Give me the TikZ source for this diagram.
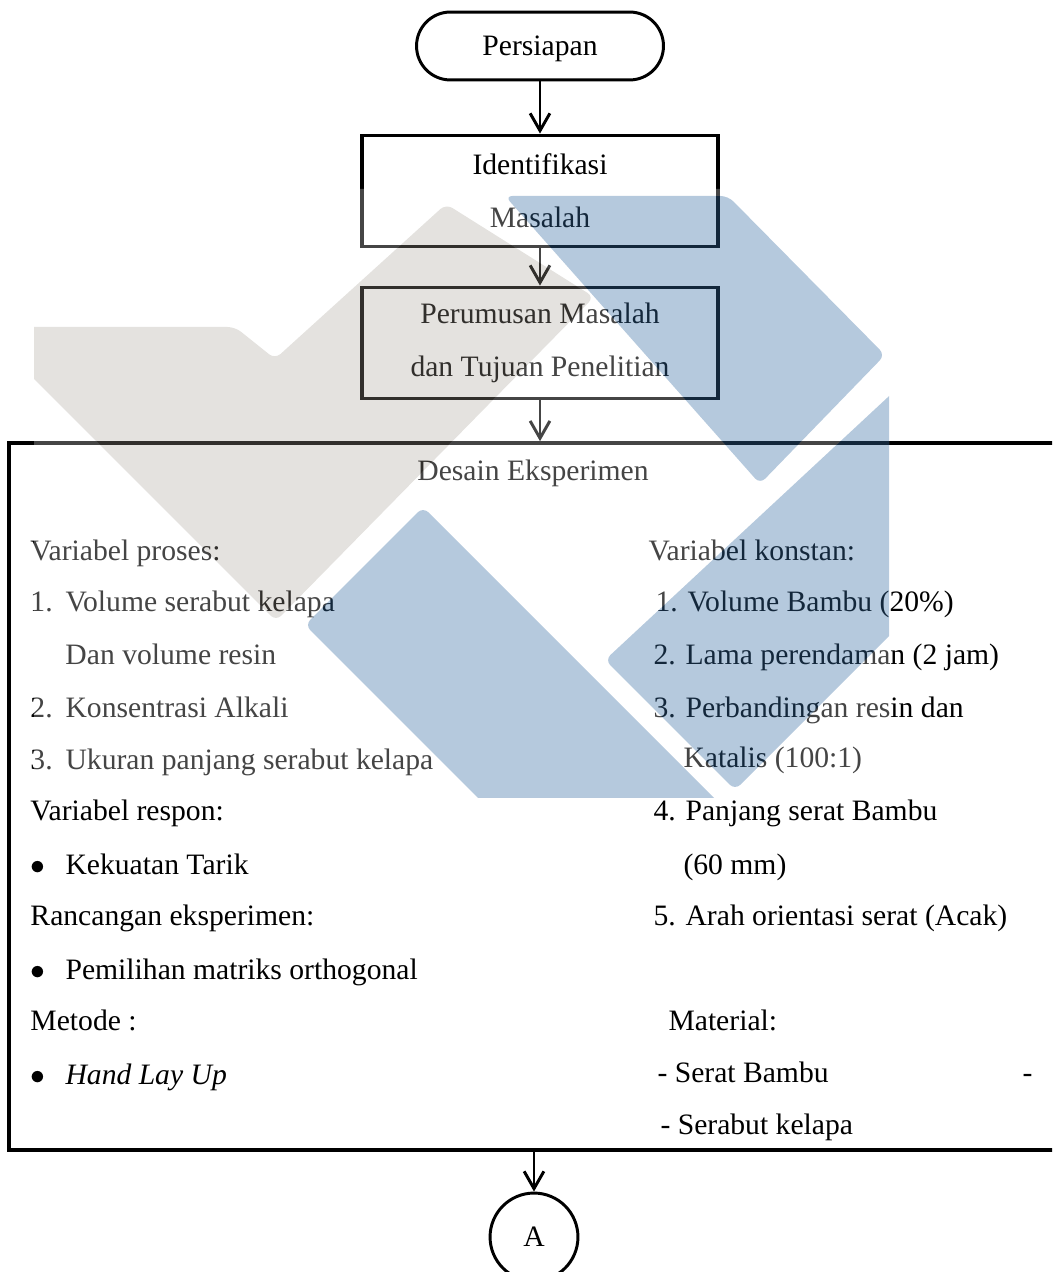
\documentclass[tikz,border=0pt]{standalone}
\usepackage{fontspec}
\setmainfont{Liberation Serif}
\usetikzlibrary{arrows.meta}

\definecolor{logoabu}{RGB}{165,158,148}
\definecolor{logobiru}{RGB}{54,108,162}

% watermark logo
\def\logoabu{(0,327) -- (235,327) -- (275,359) -- (446,204) -- (594,297) -- (276,621) -- (0,345) -- cycle}
\def\logobiru{(505,196) -- (728,196) -- (885,355) -- (760,484) -- cycle}
\def\logotengah{(305,625) -- (423,507) -- (766,850) -- (530,850) -- cycle}
\def\logokanan{(605,660) -- (1000,293) -- (1000,525) -- (735,790) -- cycle}

\begin{document}
\begin{tikzpicture}[x=0.405pt, y=-0.405pt, font=\fontsize{12}{14.4}\selectfont]
			\useasboundingbox (0,0) rectangle (1052,1272);
			\clip (0,0) rectangle (1052,1272);

			\begin{scope}[every node/.style={draw,line width=1.5pt,minimum width=144pt,minimum height=45pt,align=center,font=\fontsize{12}{21.5}\selectfont}]
				\node[rounded corners=13.7pt,line width=1.2pt,minimum width=100pt,minimum height=27.5pt,text height=.75em,text depth=0pt] (persiapan) at (540,46) {Persiapan};
				\node (identifikasi) at (540,191) {Identifikasi\\Masalah};
				\node (perumusan) at (540,343) {Perumusan Masalah\\dan Tujuan Penelitian};
				\node[minimum width=430.1pt,minimum height=286.3pt] (desain) at (540,796.5) {};
				\node[circle,line width=1.2pt,minimum size=35.6pt,inner sep=0pt] (konektor) at (534,1237) {A};
			\end{scope}

			\node (judul) at (533,473) {Desain Eksperimen};

			\begin{scope}[every node/.style={anchor=west,inner sep=0pt,text height=1.5ex,text depth=.25ex}]
				\node (proses) at (30,553) {Variabel proses:};
				\node (proses1) at (30,604) {\makebox[14.2pt][l]{1.}Volume serabut kelapa};
				\node (proses1b) at (65,657) {Dan volume resin};
				\node (proses2) at (30,710) {\makebox[14.2pt][l]{2.}Konsentrasi Alkali};
				\node (proses3) at (30,762) {\makebox[14.2pt][l]{3.}Ukuran panjang serabut kelapa};
				\node (respon) at (30,813) {Variabel respon:};
				\node (respon1) at (30,867) {\makebox[14.2pt][l]{$\bullet$}Kekuatan Tarik};
				\node (rancangan) at (30,918) {Rancangan eksperimen:};
				\node (rancangan1) at (30,972) {\makebox[14.2pt][l]{$\bullet$}Pemilihan matriks orthogonal};
				\node (metode) at (30,1023) {Metode :};
				\node (metode1) at (30,1077) {\makebox[14.2pt][l]{$\bullet$}\textit{Hand Lay Up}};

				\node (konstan) at (648,553) {Variabel konstan:};
				\node (konstan1) at (655,604) {1. Volume Bambu (20\%)};
				\node (konstan2) at (653,657) {2. Lama perendaman (2 jam)};
				\node (konstan3) at (653,710) {3. Perbandingan resin dan};
				\node (konstan3b) at (683,760) {Katalis (100:1)};
				\node (konstan4) at (653,813) {4. Panjang serat Bambu};
				\node (konstan4b) at (683,867) {(60 mm)};
				\node (konstan5) at (653,918) {5. Arah orientasi serat (Acak)};
				\node (material) at (668,1023) {Material:};
				\node (material1) at (657,1075) {- Serat Bambu};
				\node (strip) at (1022,1075) {-};
				\node (material2) at (660,1127) {- Serabut kelapa};
			\end{scope}

			\begin{scope}[every edge/.style={draw,line width=1.2pt,-{Straight Barb[length=7pt,width=8pt]}}]
				\path (persiapan) edge (identifikasi);
				\path (identifikasi) edge (perumusan);
				\path (perumusan) edge (perumusan |- desain.north);
				\path (konektor |- desain.south) edge (konektor);
			\end{scope}

			\begin{scope}
				\clip (34,189) rectangle (889,797);
				\fill[white,fill opacity=.27,even odd rule] (34,189) rectangle (889,797) [rounded corners=3pt] \logoabu \logobiru \logotengah \logokanan;
				\fill[logoabu,fill opacity=.3,rounded corners=3pt] \logoabu;
				\fill[logobiru,fill opacity=.37,rounded corners=3pt] \logobiru \logotengah \logokanan;
			\end{scope}
		\end{tikzpicture}
\end{document}
